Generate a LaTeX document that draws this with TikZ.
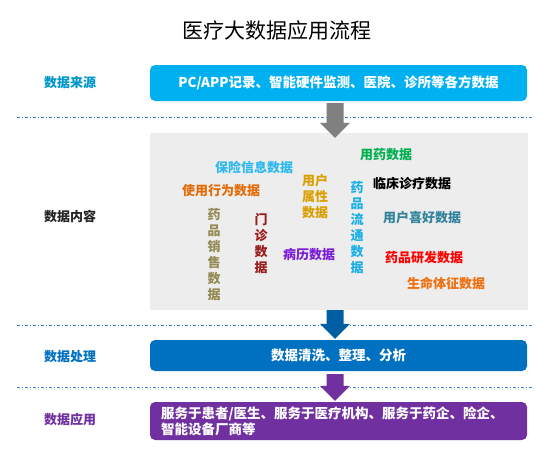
\documentclass[tikz,border=0pt]{standalone}
\usepackage{fontspec}
\setmainfont{Noto Sans CJK SC}
\usepackage{tikz}
\usetikzlibrary{positioning,calc}
\definecolor{srcblue}{HTML}{00B0F0}
\definecolor{probblue}{HTML}{0070C0}
\definecolor{appviolet}{HTML}{7030A0}
\definecolor{sepblue}{HTML}{3F7FCF}
\definecolor{panelgray}{HTML}{EDEDED}
\newcommand{\flowarrow}[3]{%
  \fill[#3] ($(#1)+(-8.5,0)$) -- ($(#1)+(8.5,0)$) -- ($(#2)+(8.5,-15)$) -- ($(#2)+(15,-15)$)
    -- (#2) -- ($(#2)+(-15,-15)$) -- ($(#2)+(-8.5,-15)$) -- cycle;}

\begin{document}
\begin{tikzpicture}[x=1pt,y=-1pt,
    box/.style={rounded corners=5pt,minimum width=377pt,inner sep=0pt,text=white,
      font=\bfseries\fontsize{13.5}{16}\selectfont},
    lbl/.style={font=\bfseries\fontsize{13}{16}\selectfont,inner sep=0pt},
    word/.style={font=\bfseries\fontsize{13}{16}\selectfont,align=center,inner sep=0pt},
    sep/.style={draw=sepblue,line width=1pt,dash pattern=on 3pt off 2pt on 1pt off 2pt}]
  \useasboundingbox (0,0) rectangle (553,453);
  % title
  \node[font=\fontsize{21}{24}\selectfont] (title) at (277,31) {医疗大数据应用流程};
  % separators
  \draw[sep] (17,117) -- (533,117);
  \draw[sep] (17,325) -- (533,325);
  \draw[sep] (17,387) -- (533,387);
  % left labels
  \node[lbl,text=srcblue!85!black] (l1) at (70,83) {数据来源};
  \node[lbl,text=black!85] (l2) at (70,217) {数据内容};
  \node[lbl,text=probblue] (l3) at (70,357) {数据处理};
  \node[lbl,text=appviolet] (l4) at (70,420) {数据应用};
  % boxes
  \node[box,fill=srcblue,minimum height=36pt] (src) at (338.5,83) {PC/APP记录、智能硬件监测、医院、诊所等各方数据};
  \node[fill=panelgray,minimum width=378pt,minimum height=177pt,inner sep=0pt] (content) at (339,221.5) {};
  \node[box,fill=probblue,minimum height=31pt] (proc) at (338.5,355.5) {数据清洗、整理、分析};
  \node[box,fill=appviolet,minimum height=38pt] (app) at (338.5,421) {};
  \node[box,align=left,anchor=west,minimum width=0pt] (apptext) at ($(app.west)+(11,0)$)
    {服务于患者/医生、服务于医疗机构、服务于药企、险企、\\智能设备厂商等};
  % words inside the panel
  \node[word,text={rgb,255:red,0;green,176;blue,80}] (w1) at (386,155) {用药数据};
  \node[word,text={rgb,255:red,45;green,185;blue,239}] (w2) at (254,168) {保险信息数据};
  \node[word,text={rgb,255:red,217;green,160;blue,0}] (w3) at (315,197) {用户\\属性\\数据};
  \node[word,text={rgb,255:red,26;green,175;blue,230}] (w4) at (357,228) {药\\品\\流\\通\\数\\据};
  \node[word,text=black] (w5) at (412,184) {临床诊疗数据};
  \node[word,text={rgb,255:red,227;green,108;blue,9}] (w6) at (221,191) {使用行为数据};
  \node[word,text={rgb,255:red,49;green,132;blue,155}] (w7) at (422,218) {用户喜好数据};
  \node[word,text={rgb,255:red,148;green,138;blue,84}] (w8) at (214,255) {药\\品\\销\\售\\数\\据};
  \node[word,text={rgb,255:red,155;green,28;blue,28}] (w9) at (261,244) {门\\诊\\数\\据};
  \node[word,text={rgb,255:red,123;green,31;blue,214}] (w10) at (309,255) {病历数据};
  \node[word,text=red] (w11) at (424,258) {药品研发数据};
  \node[word,text={rgb,255:red,240;green,112;blue,16}] (w12) at (446,283) {生命体征数据};
  % arrows between the stages
  \coordinate (a1) at ($(src.south)+(-3.5,2)$);
  \coordinate (b1) at ($(content.north)+(-4,5)$);
  \coordinate (a2) at ($(content.south)+(-4,0)$);
  \coordinate (b2) at ($(proc.north)+(-3.5,-1)$);
  \coordinate (a3) at ($(proc.south)+(-3.5,3)$);
  \coordinate (b3) at ($(app.north)+(-3.5,-1)$);
  \flowarrow{a1}{b1}{black!50}
  \flowarrow{a2}{b2}{probblue!85!black}
  \flowarrow{a3}{b3}{appviolet}
\end{tikzpicture}
\end{document}
